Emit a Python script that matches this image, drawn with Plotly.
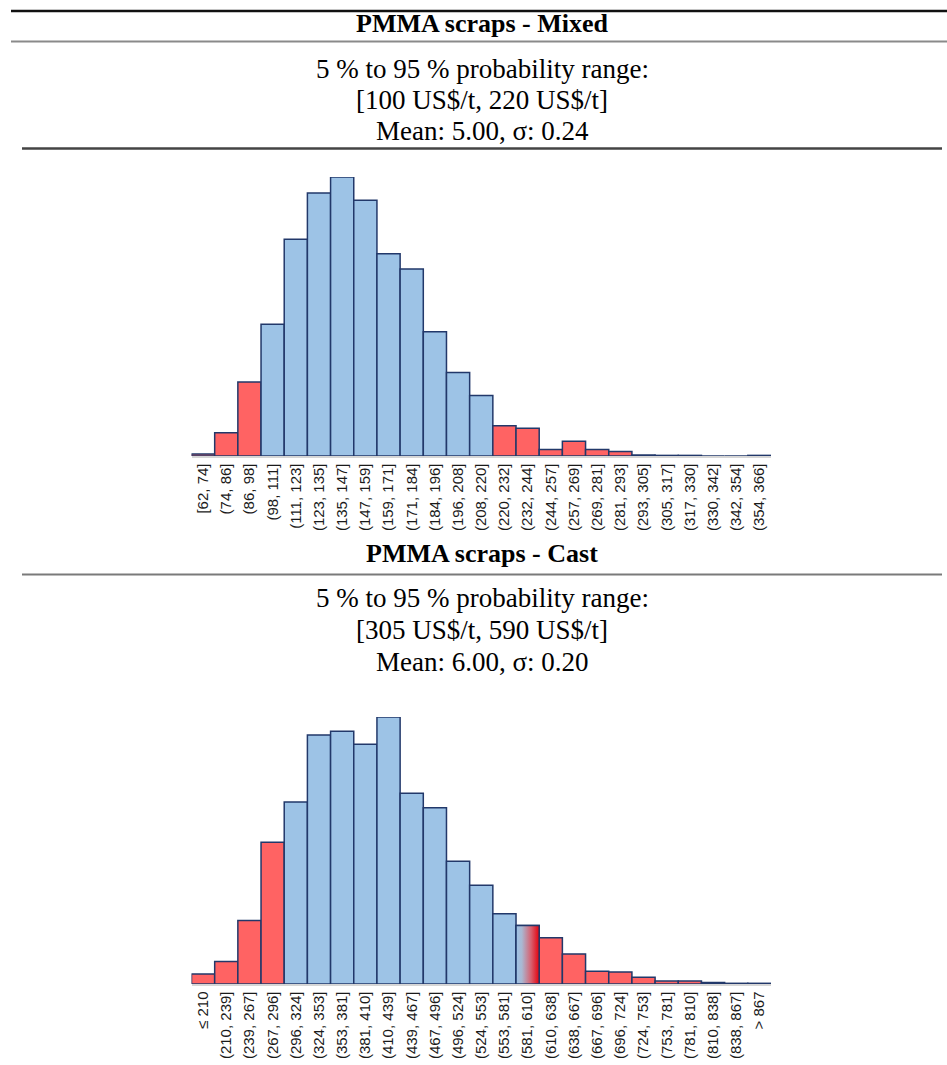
import plotly.graph_objects as go

W, H = 947, 1065

# ---------------- data ----------------
mixed_bins = ["[62, 74]", "(74, 86]", "(86, 98]", "(98, 111]", "(111, 123]", "(123, 135]",
              "(135, 147]", "(147, 159]", "(159, 171]", "(171, 184]", "(184, 196]", "(196, 208]",
              "(208, 220]", "(220, 232]", "(232, 244]", "(244, 257]", "(257, 269]", "(269, 281]",
              "(281, 293]", "(293, 305]", "(305, 317]", "(317, 330]", "(330, 342]", "(342, 354]",
              "(354, 366]"]
mixed_freq = [0.10, 1.17, 3.71, 6.60, 10.85, 13.17, 13.97, 12.80, 10.13, 9.36, 6.22, 4.18,
              3.03, 1.52, 1.39, 0.33, 0.74, 0.33, 0.23, 0.05, 0.03, 0.03, 0.0, 0.0, 0.03]
# 1 = inside the 5 %-95 % range, 0 = outside
mixed_in_range = [0, 0, 0, 1, 1, 1, 1, 1, 1, 1, 1, 1, 1, 0, 0, 0, 0, 0, 0, 1, 1, 1, 1, 1, 1]

cast_bins = ["≤ 210", "(210, 239]", "(239, 267]", "(267, 296]", "(296, 324]", "(324, 353]",
             "(353, 381]", "(381, 410]", "(410, 439]", "(439, 467]", "(467, 496]", "(496, 524]",
             "(524, 553]", "(553, 581]", "(581, 610]", "(610, 638]", "(638, 667]", "(667, 696]",
             "(696, 724]", "(724, 753]", "(753, 781]", "(781, 810]", "(810, 838]", "(838, 867]",
             "> 867"]
cast_freq = [0.44, 0.99, 2.81, 6.27, 8.04, 11.00, 11.17, 10.60, 11.80, 8.43, 7.79, 5.43,
             4.36, 3.11, 2.59, 2.04, 1.33, 0.56, 0.53, 0.30, 0.13, 0.13, 0.07, 0.03, 0.03]
# 1 = inside, 0 = outside, 2 = bin split by the 95 % bound
cast_in_range = [0, 0, 0, 0, 1, 1, 1, 1, 1, 1, 1, 1, 1, 1, 2, 0, 0, 0, 0, 0, 0, 0, 1, 1, 1]

mixed_text = ["PMMA scraps - Mixed", "5 % to 95 % probability range:",
              "[100 US$/t, 220 US$/t]", "Mean: 5.00, σ: 0.24"]
cast_text = ["PMMA scraps - Cast", "5 % to 95 % probability range:",
             "[305 US$/t, 590 US$/t]", "Mean: 6.00, σ: 0.20"]

# ---------------- styles ----------------
BLUE = "#9DC3E6"
RED = "#FF6363"
EDGE = "#22386A"
SERIF = "Liberation Serif, Times New Roman, serif"
SANS = "Liberation Sans, Arial, sans-serif"


def px_x(p):
    return p / W


def px_y(p):
    return 1 - p / H


fig = go.Figure()


def add_hist(bins, freq, flags, xa, ya):
    idx = list(range(len(bins)))
    colors = [BLUE if f >= 1 else RED for f in flags]
    fig.add_trace(go.Bar(x=idx, y=freq, marker=dict(color=colors, line=dict(color=EDGE, width=1.5)),
                         xaxis=xa, yaxis=ya, showlegend=False, hoverinfo="skip"))
    for i, f in enumerate(flags):
        if f == 2:
            v = freq[i]
            fig.add_trace(go.Scatter(
                x=[i - 0.5, i - 0.5, i + 0.5, i + 0.5, i - 0.5], y=[0, v, v, 0, 0],
                mode="lines", fill="toself",
                fillgradient=dict(type="horizontal",
                                  colorscale=[[0, BLUE], [0.25, "#A9B8D2"], [0.65, "#D8606F"], [1, "#E5000C"]]),
                line=dict(color=EDGE, width=1.5), xaxis=xa, yaxis=ya,
                showlegend=False, hoverinfo="skip"))


add_hist(mixed_bins, mixed_freq, mixed_in_range, "x", "y")
add_hist(cast_bins, cast_freq, cast_in_range, "x2", "y2")

xdom = [px_x(191.5), px_x(771)]
xcommon = dict(domain=xdom, tickangle=-90, showgrid=False, zeroline=False, showline=True,
               linecolor="#D6D6D6", linewidth=1.5, ticks="", automargin=False,
               tickfont=dict(family=SANS, size=15, color="#1a1a1a"))

fig.update_layout(
    width=W, height=H, margin=dict(l=0, r=0, t=0, b=0),
    paper_bgcolor="white", plot_bgcolor="white", bargap=0,
    xaxis=dict(**xcommon, anchor="y", range=[-0.5, len(mixed_bins) - 0.5],
               tickvals=list(range(len(mixed_bins))), ticktext=mixed_bins),
    yaxis=dict(domain=[px_y(456), px_y(177)], range=[0, max(mixed_freq)], visible=False, anchor="x"),
    xaxis2=dict(**xcommon, anchor="y2", range=[-0.5, len(cast_bins) - 0.5],
                tickvals=list(range(len(cast_bins))), ticktext=cast_bins),
    yaxis2=dict(domain=[px_y(984), px_y(717)], range=[0, max(cast_freq)], visible=False, anchor="x2"),
)

# header rules
rules = [(11, 11, 947, "#111111", 2.5), (41.5, 11, 947, "#8A8A8A", 2),
         (148.5, 22, 942, "#444444", 2.5), (574.5, 22, 942, "#7A7A7A", 2)]
for y, x0, x1, c, w in rules:
    fig.add_shape(type="line", xref="paper", yref="paper", x0=px_x(x0), x1=px_x(x1),
                  y0=px_y(y), y1=px_y(y), line=dict(color=c, width=w))

TEXT_X = px_x(482)


def add_block(texts, ys):
    for k, (t, y) in enumerate(zip(texts, ys)):
        fig.add_annotation(text=f"<b>{t}</b>" if k == 0 else t, x=TEXT_X, y=px_y(y),
                           xref="paper", yref="paper", xanchor="center", yanchor="middle",
                           showarrow=False,
                           font=dict(family=SERIF, size=26 if k == 0 else 27, color="black"))


add_block(mixed_text, [23, 69, 100, 131])
add_block(cast_text, [553, 598, 630, 662])

fig.write_html("out.html", config={"displayModeBar": False, "staticPlot": True},
               post_script="document.body.style.margin='0';document.body.style.overflow='hidden';")
